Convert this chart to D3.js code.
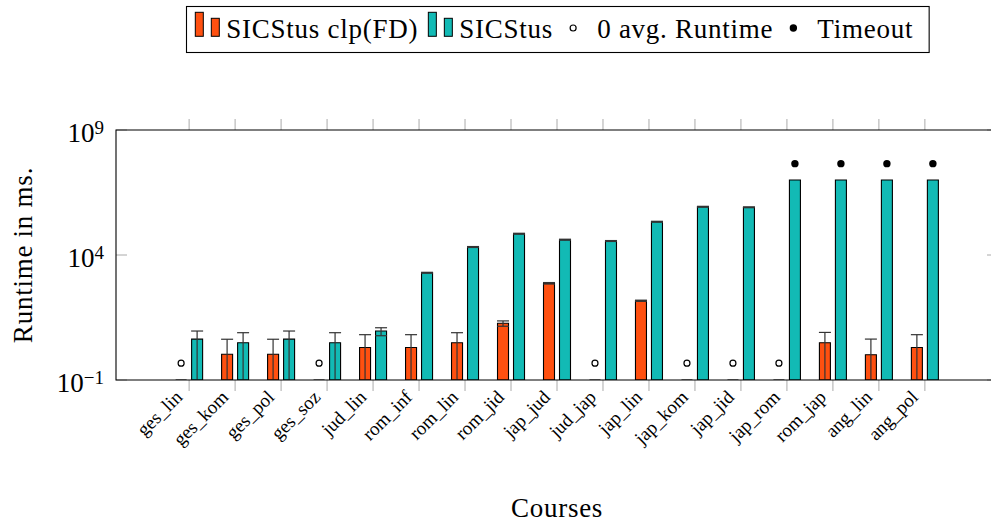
<!DOCTYPE html>
<html>
<head>
<meta charset="utf-8">
<script src="https://cdn.jsdelivr.net/npm/d3@7"></script>
<style>
  html, body { margin: 0; padding: 0; background: #fff; }
  svg { display: block; }
</style>
</head>
<body>
<svg id="chart" width="991" height="525" font-family="'Liberation Serif', 'Times New Roman', serif"></svg>
<script>
// Courses (x categories)
const categories = ["ges_lin", "ges_kom", "ges_pol", "ges_soz", "jud_lin", "rom_inf", "rom_lin", "rom_jid",
  "jap_jud", "jud_jap", "jap_lin", "jap_kom", "jap_jid", "jap_rom", "rom_jap", "ang_lin", "ang_pol"];

// SICStus clp(FD): average runtime (ms) and error
const clpfdAvg = [0, 1.07, 1.07, 0, 2.0, 2.0, 3.1, 18.6, 740, 0, 148, 0, 0, 0, 3.1, 1.03, 2.0];
const clpfdErr = [0, 3.2, 3.2, 0, 4.5, 4.5, 4.7, 4.5, 50, 0, 8, 0, 0, 0, 4.9, 3.3, 4.5];

// SICStus: average runtime (ms) and error
const sicstusAvg = [4.3, 3.1, 4.3, 3.1, 9.1, 1950, 20900, 71000, 41000, 36300, 214000, 850000, 810000,
  1e7, 1e7, 1e7, 1e7];
const sicstusErr = [4.8, 4.7, 4.8, 4.7, 3.2, 80, 900, 3000, 1800, 1500, 9000, 35000, 30000, 0, 0, 0, 0];

// runs that hit the time limit
const sicstusTimeout = [false, false, false, false, false, false, false, false, false, false, false,
  false, false, true, true, true, true];

// y axis ticks (powers of ten)
const yTickExponents = [-1, 4, 9];

// legend entries
const legendLabels = ["SICStus clp(FD)", "SICStus", "0 avg. Runtime", "Timeout"];

// marker heights for the "0 avg." and timeout symbols
const zeroMarkValue = 0.47;
const timeoutMarkValue = 4.5e7;

const colors = { clpfd: "#ff5010", sicstus: "#12bab5" };
const FONT = "'Liberation Serif', 'Times New Roman', serif";

const svg = d3.select("#chart");
const plot = { left: 116, top: 130, right: 998, bottom: 380 };

const x = d3.scaleLinear()
  .domain([-1.59, categories.length - 1 + 1.59])
  .range([plot.left, plot.right]);
const y = d3.scaleLog().domain([0.1, 1e9]).range([plot.bottom, plot.top]);

const barW = 11, shift = 8;

svg.append("defs").append("clipPath").attr("id", "plotclip")
  .append("rect").attr("x", plot.left).attr("y", plot.top)
  .attr("width", plot.right - plot.left).attr("height", plot.bottom - plot.top);

// tick marks
const tickColor = "#aaaaaa";
const tickG = svg.append("g");
categories.forEach((c, i) => {
  const xx = x(i);
  tickG.append("line").attr("x1", xx).attr("x2", xx).attr("y1", plot.bottom).attr("y2", plot.bottom + 11)
    .attr("stroke", tickColor).attr("stroke-width", 1);
  tickG.append("line").attr("x1", xx).attr("x2", xx).attr("y1", plot.top).attr("y2", plot.top - 11)
    .attr("stroke", tickColor).attr("stroke-width", 1);
});
yTickExponents.forEach(e => {
  const yy = y(Math.pow(10, e));
  tickG.append("line").attr("x1", plot.left).attr("x2", plot.left + 11).attr("y1", yy).attr("y2", yy)
    .attr("stroke", tickColor);
  tickG.append("line").attr("x1", plot.right).attr("x2", plot.right - 11).attr("y1", yy).attr("y2", yy)
    .attr("stroke", tickColor);
});

// bars
function barPath(cx, v) {
  const y0 = plot.bottom;
  const y1 = v > 0 ? y(v) : plot.bottom;
  const x0 = cx - barW / 2;
  return `M${x0},${y0}V${y1}H${x0 + barW}V${y0}Z`;
}
const barsG = svg.append("g").attr("clip-path", "url(#plotclip)");
const series = [
  { avg: clpfdAvg, err: clpfdErr, color: colors.clpfd, off: -shift },
  { avg: sicstusAvg, err: sicstusErr, color: colors.sicstus, off: shift }
];
series.forEach(s => {
  barsG.selectAll(null).data(categories).join("path")
    .attr("d", (c, i) => barPath(x(i) + s.off, s.avg[i]))
    .attr("fill", s.color).attr("stroke", "#000").attr("stroke-width", 1.1);
});

// error bars
const errG = svg.append("g").attr("clip-path", "url(#plotclip)").attr("stroke", "#333").attr("stroke-width", 1.2);
series.forEach(s => {
  categories.forEach((c, i) => {
    const v = s.avg[i], e = s.err[i];
    if (!(v > 0) || !(e > 0)) return;
    const cx = x(i) + s.off;
    const hi = y(v + e);
    const lo = v - e > 0 ? y(v - e) : plot.bottom + 5;
    errG.append("line").attr("x1", cx).attr("x2", cx).attr("y1", hi).attr("y2", lo);
    errG.append("line").attr("x1", cx - barW / 2 - 0.5).attr("x2", cx + barW / 2 + 0.5).attr("y1", hi).attr("y2", hi);
    if (v - e > 0) {
      errG.append("line").attr("x1", cx - barW / 2 - 0.5).attr("x2", cx + barW / 2 + 0.5).attr("y1", lo).attr("y2", lo);
    }
  });
});

// markers: 0 avg. runtime (open circle), timeout (filled dot)
const markG = svg.append("g");
categories.forEach((c, i) => {
  if (clpfdAvg[i] === 0) {
    markG.append("circle").attr("cx", x(i) - shift).attr("cy", y(zeroMarkValue)).attr("r", 3)
      .attr("fill", "#fff").attr("stroke", "#000").attr("stroke-width", 1.2);
  }
  if (sicstusTimeout[i]) {
    markG.append("circle").attr("cx", x(i) + shift).attr("cy", y(timeoutMarkValue)).attr("r", 3.7)
      .attr("fill", "#000");
  }
});

// frame
svg.append("path")
  .attr("d", `M${plot.right + 5},${plot.top}H${plot.left}V${plot.bottom}H${plot.right + 5}`)
  .attr("fill", "none").attr("stroke", "#000").attr("stroke-width", 1.1);

// y tick labels
const yLab = svg.append("g");
yTickExponents.forEach(e => {
  const t = yLab.append("text").attr("x", 104).attr("y", y(Math.pow(10, e)) + 11.5)
    .attr("text-anchor", "end").attr("font-family", FONT).attr("font-size", 27);
  t.append("tspan").text("10");
  t.append("tspan").attr("dy", -8).attr("font-size", 19).text(e < 0 ? "\u2212" + (-e) : String(e));
});

// x tick labels
const xLab = svg.append("g");
categories.forEach((c, i) => {
  const ax = x(i) - 10, ay = plot.bottom + 14;
  xLab.append("text").attr("transform", `translate(${ax},${ay}) rotate(-45)`)
    .attr("text-anchor", "end").attr("dy", "0.32em")
    .attr("font-family", FONT).attr("font-size", 19).text(c);
});

// axis titles
svg.append("text").attr("transform", `translate(32,${(plot.top + plot.bottom) / 2}) rotate(-90)`)
  .attr("text-anchor", "middle").attr("font-family", FONT).attr("font-size", 27)
  .attr("letter-spacing", 0.75).text("Runtime in ms.");
svg.append("text").attr("x", 557).attr("y", 517).attr("text-anchor", "middle")
  .attr("font-family", FONT).attr("font-size", 27).attr("letter-spacing", 0.75).text("Courses");

// legend
const leg = svg.append("g");
const legBox = leg.append("rect").attr("fill", "#fff").attr("stroke", "#000").attr("stroke-width", 1.1);
const baseY = 38.3;
let cx = 195.3;
legendLabels.forEach((lab, k) => {
  if (k < 2) {
    const col = k === 0 ? colors.clpfd : colors.sicstus;
    leg.append("rect").attr("x", cx).attr("y", 12.3).attr("width", 8).attr("height", 24)
      .attr("fill", col).attr("stroke", "#000").attr("stroke-width", 1);
    leg.append("rect").attr("x", cx + 16).attr("y", 18.3).attr("width", 8).attr("height", 18)
      .attr("fill", col).attr("stroke", "#000").attr("stroke-width", 1);
    cx += 31;
  } else {
    cx += 20;
    if (k === 2) {
      leg.append("circle").attr("cx", cx).attr("cy", 28).attr("r", 3)
        .attr("fill", "#fff").attr("stroke", "#000").attr("stroke-width", 1.2);
    } else {
      leg.append("circle").attr("cx", cx).attr("cy", 28).attr("r", 3.7).attr("fill", "#000");
    }
    cx += 24;
  }
  const t = leg.append("text").attr("x", cx).attr("y", baseY)
    .attr("font-family", FONT).attr("font-size", 27).attr("letter-spacing", 0.75).text(lab);
  cx += t.node().getComputedTextLength();
  if (k < 1) cx += 10;
});
legBox.attr("x", 186.5).attr("y", 6.5).attr("width", cx + 16 - 186.5).attr("height", 46);
</script>
</body>
</html>
